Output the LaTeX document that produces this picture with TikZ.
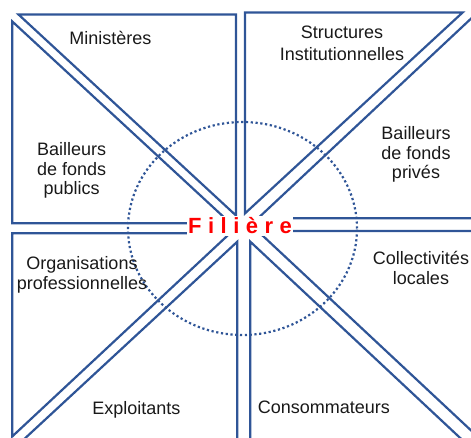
\documentclass[tikz,border=0pt]{standalone}
\usepackage{fontspec}
\setmainfont{Liberation Sans}
\definecolor{frame}{RGB}{47,85,151}
\begin{document}
\begin{tikzpicture}[x=1pt,y=-1pt,
  tri/.style={draw=frame, line width=2.2pt, line join=miter},
  lbl/.style={font=\fontsize{18}{19.5}\selectfont, align=center, anchor=base, inner sep=0pt, text=black!90},
  ring/.style={draw=frame, line width=2.2pt, dash pattern=on 2.2pt off 2.6pt}]
\useasboundingbox (0,0) rectangle (471,438);
\clip (0,0) rectangle (471,438);
% dotted ring
\draw[ring] (242.5,228.5) ellipse [x radius=114.5pt, y radius=106.5pt];
% top-left quadrant
\draw[tri] (18.5,14.5) -- (236,14.5) -- (236,215.5) -- cycle;
\draw[tri] (12.3,21.5) -- (12.3,223.3) -- (230.5,223.3) -- cycle;
% top-right quadrant
\draw[tri] (245,12.6) -- (462.5,12.6) -- (245,213.4) -- cycle;
\draw[tri] (258,218.3) -- (480,218.3) -- (480,10.2) -- cycle;
% bottom-right quadrant
\draw[tri] (257.7,231) -- (480,231) -- (480,438.8) -- cycle;
\draw[tri] (250.3,241.7) -- (250.3,445) -- (467.7,445) -- cycle;
% bottom-left quadrant
\draw[tri] (12.3,233.3) -- (230,233.3) -- (12.3,436.4) -- cycle;
\draw[tri] (237.3,241.7) -- (237.3,445) -- (17.8,445) -- cycle;
% labels (multi-line: base = last line)
\node[lbl] (min) at (110.5,44.3) {Ministères};
\node[lbl] (bpub) at (71.7,194.7) {Bailleurs\\de fonds\\publics};
\node[lbl] (struct) at (342,60.5) {Structures\\[2.2pt]Institutionnelles};
\node[lbl] (bpriv) at (416,179) {Bailleurs\\de fonds\\privés};
\node[lbl] (org) at (82,290) {Organisations\\[0.5pt]professionnelles};
\node[lbl] (coll) at (421,284) {Collectivités\\[0.2pt]locales};
\node[lbl] (expl) at (136.3,414) {Exploitants};
\node[lbl] (cons) at (323.8,413.3) {Consommateurs};
% centre
\node[fill=white, inner sep=1.5pt, text=red, anchor=base,
  font=\fontsize{22}{22}\selectfont\bfseries] (fil) at (240,234)
  {F\kern6.5pt i\kern6.5pt l\kern6.5pt i\kern6.5pt è\kern6.5pt r\kern6.5pt e};
\end{tikzpicture}
\end{document}
